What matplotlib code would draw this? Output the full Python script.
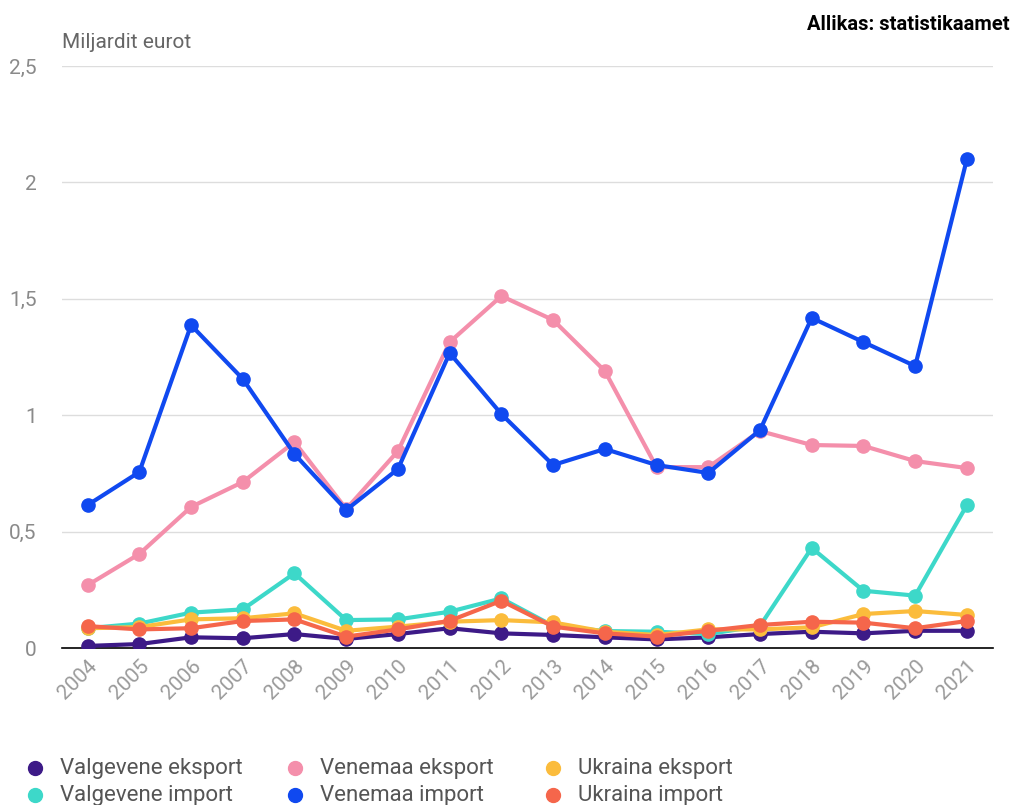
import matplotlib.pyplot as plt
from matplotlib.lines import Line2D

plt.rcParams['font.family'] = ['Roboto', 'DejaVu Sans']

years = list(range(2004, 2022))

valgevene_eksport = [0.009, 0.017, 0.046, 0.042, 0.060, 0.039, 0.060, 0.085, 0.063,
                     0.056, 0.046, 0.037, 0.046, 0.060, 0.070, 0.063, 0.074, 0.074]
valgevene_import = [0.085, 0.105, 0.152, 0.166, 0.321, 0.120, 0.123, 0.156, 0.213,
                    0.095, 0.073, 0.070, 0.060, 0.095, 0.430, 0.246, 0.225, 0.614]
venemaa_eksport = [0.270, 0.404, 0.606, 0.713, 0.885, 0.597, 0.846, 1.314, 1.512,
                   1.409, 1.190, 0.777, 0.777, 0.932, 0.872, 0.868, 0.803, 0.773]
venemaa_import = [0.614, 0.756, 1.387, 1.156, 0.833, 0.593, 0.769, 1.267, 1.005,
                  0.786, 0.855, 0.786, 0.752, 0.936, 1.418, 1.314, 1.211, 2.100]
ukraina_eksport = [0.085, 0.090, 0.123, 0.128, 0.149, 0.074, 0.092, 0.113, 0.120,
                   0.110, 0.070, 0.056, 0.080, 0.080, 0.089, 0.146, 0.159, 0.142]
ukraina_import = [0.094, 0.080, 0.085, 0.116, 0.123, 0.049, 0.080, 0.117, 0.203,
                  0.092, 0.063, 0.049, 0.074, 0.099, 0.113, 0.109, 0.085, 0.116]

series = [
    ('Valgevene eksport', valgevene_eksport, '#3d1a87'),
    ('Valgevene import', valgevene_import, '#3dd8c9'),
    ('Venemaa eksport', venemaa_eksport, '#f48fab'),
    ('Venemaa import', venemaa_import, '#1049f0'),
    ('Ukraina eksport', ukraina_eksport, '#fbbc3c'),
    ('Ukraina import', ukraina_import, '#f5664b'),
]

fig = plt.figure(figsize=(10.12, 8.05), dpi=100)
ax = fig.add_axes([0.061, 0.195, 0.92, 0.723])

for name, vals, color in series:
    ax.plot(years, vals, color=color, linewidth=3, marker='o', markersize=9.5,
            solid_capstyle='round')

ax.set_xlim(2003.5, 2021.5)
ax.set_ylim(0, 2.5)
ax.set_yticks([0, 0.5, 1, 1.5, 2, 2.5])
ax.set_yticklabels(['0', '0,5', '1', '1,5', '2', '2,5'])
ax.set_xticks(years)
ax.set_xticklabels([str(y) for y in years], rotation=45, ha='right', rotation_mode='anchor')
ax.tick_params(axis='y', length=0, pad=18, labelsize=15, labelcolor='#8a8a8a')
ax.tick_params(axis='x', length=0, pad=6, labelsize=15, labelcolor='#9a9a9a')
ax.grid(axis='y', color='#dddddd', linewidth=1)
ax.set_axisbelow(True)
for s in ['top', 'right', 'left']:
    ax.spines[s].set_visible(False)
ax.spines['bottom'].set_color('black')
ax.spines['bottom'].set_linewidth(1.2)
ax.spines['bottom'].set_zorder(1)

fig.text(62 / 1012, 1 - 42 / 805, 'Miljardit eurot', fontsize=15, color='#666666',
         va='center', ha='left')
fig.text(1010 / 1012, 1 - 24 / 805, 'Allikas: statistikaamet', fontsize=14.5,
         fontweight='bold', color='black', va='center', ha='right')

# legend, filled row by row
legend_order = [0, 2, 4, 1, 3, 5]
col_x = [35, 295, 553]
row_y = [768, 795]
for i, idx in enumerate(legend_order):
    name, vals, color = series[idx]
    x = col_x[i % 3]
    y = row_y[i // 3]
    fig.add_artist(Line2D([x / 1012], [1 - y / 805], marker='o', markersize=10,
                          color=color, linestyle='none', transform=fig.transFigure))
    fig.text((x + 25) / 1012, 1 - y / 805, name, fontsize=16, color='#555555',
             va='center', ha='left')

plt.savefig('out.png', dpi=100)
